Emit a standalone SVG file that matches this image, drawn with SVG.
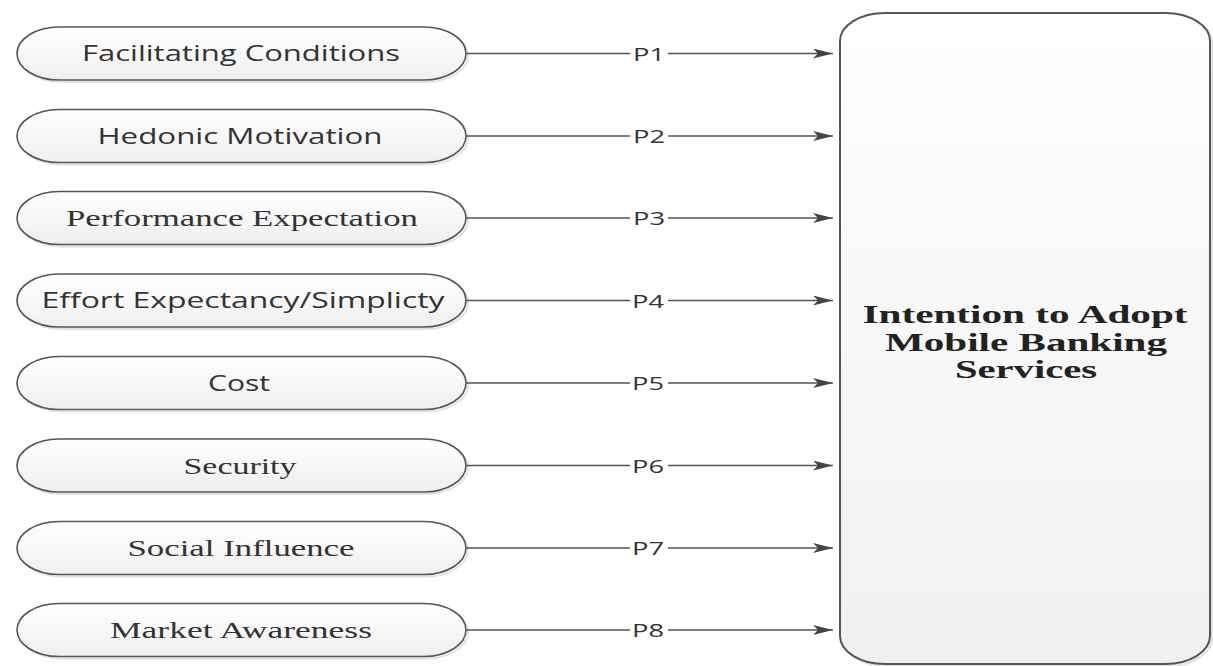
<svg xmlns="http://www.w3.org/2000/svg" width="1213" height="666" viewBox="0 0 1213 666">
  <style>
    .pill { fill: url(#pillGrad); stroke: #555; stroke-width: 1.6; }
    .shadow { fill: none; stroke: #e2e2e2; stroke-width: 2; }
    .box { fill: url(#boxGrad); stroke: #555; stroke-width: 2; }
    .sans { font-family: "Open Sans", "Liberation Sans", sans-serif; font-size: 21px; fill: #333; }
    .serif { font-family: "Liberation Serif", "DejaVu Serif", serif; font-size: 24px; fill: #333; }
    .plab { font-family: "Open Sans", "Liberation Sans", sans-serif; font-size: 19px; fill: #333; }
    .title { font-family: "Liberation Serif", "DejaVu Serif", serif; font-size: 26px; font-weight: bold; fill: #222; }
    .conn { stroke: #555; stroke-width: 1.4; fill: none; marker-end: url(#arrow); }
    .lblbg { fill: #fff; }
  </style>
  <defs>
    <linearGradient id="pillGrad" x1="0" y1="0" x2="0" y2="1">
      <stop offset="0" stop-color="#ffffff"/>
      <stop offset="1" stop-color="#efefef"/>
    </linearGradient>
    <linearGradient id="boxGrad" x1="0" y1="0" x2="0" y2="1">
      <stop offset="0" stop-color="#ffffff"/>
      <stop offset="0.3" stop-color="#fafafa"/>
      <stop offset="1" stop-color="#f0f0f0"/>
    </linearGradient>
    <marker id="arrow" viewBox="0 0 20 10" refX="20" refY="5" markerWidth="20" markerHeight="10" markerUnits="userSpaceOnUse" orient="auto">
      <path d="M0,0 L20,5 L0,10 L5,5 z" fill="#444"/>
    </marker>
  </defs>
  <rect width="1213" height="666" fill="#ffffff"/>

  <g id="target">
    <rect x="842" y="15" width="370" height="651" rx="45" ry="28" class="shadow"/>
    <rect x="840" y="13" width="370" height="651" rx="45" ry="28" class="box"/>
    <text class="title" x="1025" y="323" text-anchor="middle" textLength="325" lengthAdjust="spacingAndGlyphs">Intention to Adopt</text>
    <text class="title" x="1026" y="351" text-anchor="middle" textLength="282" lengthAdjust="spacingAndGlyphs">Mobile Banking</text>
    <text class="title" x="1026" y="378" text-anchor="middle" textLength="142" lengthAdjust="spacingAndGlyphs">Services</text>
  </g>

  <g id="n1">
    <rect x="19" y="29" width="449" height="53" rx="42" ry="26.5" class="shadow"/>
    <rect x="17" y="27" width="449" height="53" rx="42" ry="26.5" class="pill"/>
    <text class="sans" x="241" y="61" text-anchor="middle" textLength="318" lengthAdjust="spacingAndGlyphs">Facilitating Conditions</text>
  </g>
  <g id="n2">
    <rect x="19" y="111.5" width="449" height="53" rx="42" ry="26.5" class="shadow"/>
    <rect x="17" y="109.5" width="449" height="53" rx="42" ry="26.5" class="pill"/>
    <text class="sans" x="240" y="143.5" text-anchor="middle" textLength="285" lengthAdjust="spacingAndGlyphs">Hedonic Motivation</text>
  </g>
  <g id="n3">
    <rect x="19" y="193.5" width="449" height="53" rx="42" ry="26.5" class="shadow"/>
    <rect x="17" y="191.5" width="449" height="53" rx="42" ry="26.5" class="pill"/>
    <text class="serif" x="242" y="226" text-anchor="middle" textLength="352" lengthAdjust="spacingAndGlyphs">Performance Expectation</text>
  </g>
  <g id="n4">
    <rect x="19" y="276" width="449" height="53" rx="42" ry="26.5" class="shadow"/>
    <rect x="17" y="274" width="449" height="53" rx="42" ry="26.5" class="pill"/>
    <text class="sans" x="243" y="308" text-anchor="middle" textLength="403" lengthAdjust="spacingAndGlyphs">Effort Expectancy/Simplicty</text>
  </g>
  <g id="n5">
    <rect x="19" y="358.5" width="449" height="53" rx="42" ry="26.5" class="shadow"/>
    <rect x="17" y="356.5" width="449" height="53" rx="42" ry="26.5" class="pill"/>
    <text class="sans" x="239" y="390.5" text-anchor="middle" textLength="62" lengthAdjust="spacingAndGlyphs">Cost</text>
  </g>
  <g id="n6">
    <rect x="19" y="441" width="449" height="53" rx="42" ry="26.5" class="shadow"/>
    <rect x="17" y="439" width="449" height="53" rx="42" ry="26.5" class="pill"/>
    <text class="serif" x="240" y="473.5" text-anchor="middle" textLength="113" lengthAdjust="spacingAndGlyphs">Security</text>
  </g>
  <g id="n7">
    <rect x="19" y="523.5" width="449" height="53" rx="42" ry="26.5" class="shadow"/>
    <rect x="17" y="521.5" width="449" height="53" rx="42" ry="26.5" class="pill"/>
    <text class="serif" x="241" y="556" text-anchor="middle" textLength="227" lengthAdjust="spacingAndGlyphs">Social Influence</text>
  </g>
  <g id="n8">
    <rect x="19" y="605.5" width="449" height="53" rx="42" ry="26.5" class="shadow"/>
    <rect x="17" y="603.5" width="449" height="53" rx="42" ry="26.5" class="pill"/>
    <text class="serif" x="241" y="638" text-anchor="middle" textLength="262" lengthAdjust="spacingAndGlyphs">Market Awareness</text>
  </g>

  <g id="connectors">
    <line x1="466" y1="53.5" x2="833" y2="53.5" class="conn"/>
    <line x1="466" y1="136" x2="833" y2="136" class="conn"/>
    <line x1="466" y1="218" x2="833" y2="218" class="conn"/>
    <line x1="466" y1="300.5" x2="833" y2="300.5" class="conn"/>
    <line x1="466" y1="383" x2="833" y2="383" class="conn"/>
    <line x1="466" y1="465.5" x2="833" y2="465.5" class="conn"/>
    <line x1="466" y1="548" x2="833" y2="548" class="conn"/>
    <line x1="466" y1="630" x2="833" y2="630" class="conn"/>

    <rect x="630" y="44.5" width="38" height="18" class="lblbg"/>
    <text class="plab" x="649" y="60.5" text-anchor="middle" textLength="32" lengthAdjust="spacingAndGlyphs">P1</text>
    <rect x="630" y="127" width="38" height="18" class="lblbg"/>
    <text class="plab" x="649" y="143" text-anchor="middle" textLength="32" lengthAdjust="spacingAndGlyphs">P2</text>
    <rect x="630" y="209" width="38" height="18" class="lblbg"/>
    <text class="plab" x="649" y="225" text-anchor="middle" textLength="32" lengthAdjust="spacingAndGlyphs">P3</text>
    <rect x="630" y="291.5" width="38" height="18" class="lblbg"/>
    <text class="plab" x="648" y="307.5" text-anchor="middle" textLength="32" lengthAdjust="spacingAndGlyphs">P4</text>
    <rect x="630" y="374" width="38" height="18" class="lblbg"/>
    <text class="plab" x="648" y="390" text-anchor="middle" textLength="32" lengthAdjust="spacingAndGlyphs">P5</text>
    <rect x="630" y="456.5" width="38" height="18" class="lblbg"/>
    <text class="plab" x="648" y="472.5" text-anchor="middle" textLength="32" lengthAdjust="spacingAndGlyphs">P6</text>
    <rect x="630" y="539" width="38" height="18" class="lblbg"/>
    <text class="plab" x="648" y="555" text-anchor="middle" textLength="32" lengthAdjust="spacingAndGlyphs">P7</text>
    <rect x="630" y="621" width="38" height="18" class="lblbg"/>
    <text class="plab" x="648" y="637" text-anchor="middle" textLength="32" lengthAdjust="spacingAndGlyphs">P8</text>
  </g>
</svg>
